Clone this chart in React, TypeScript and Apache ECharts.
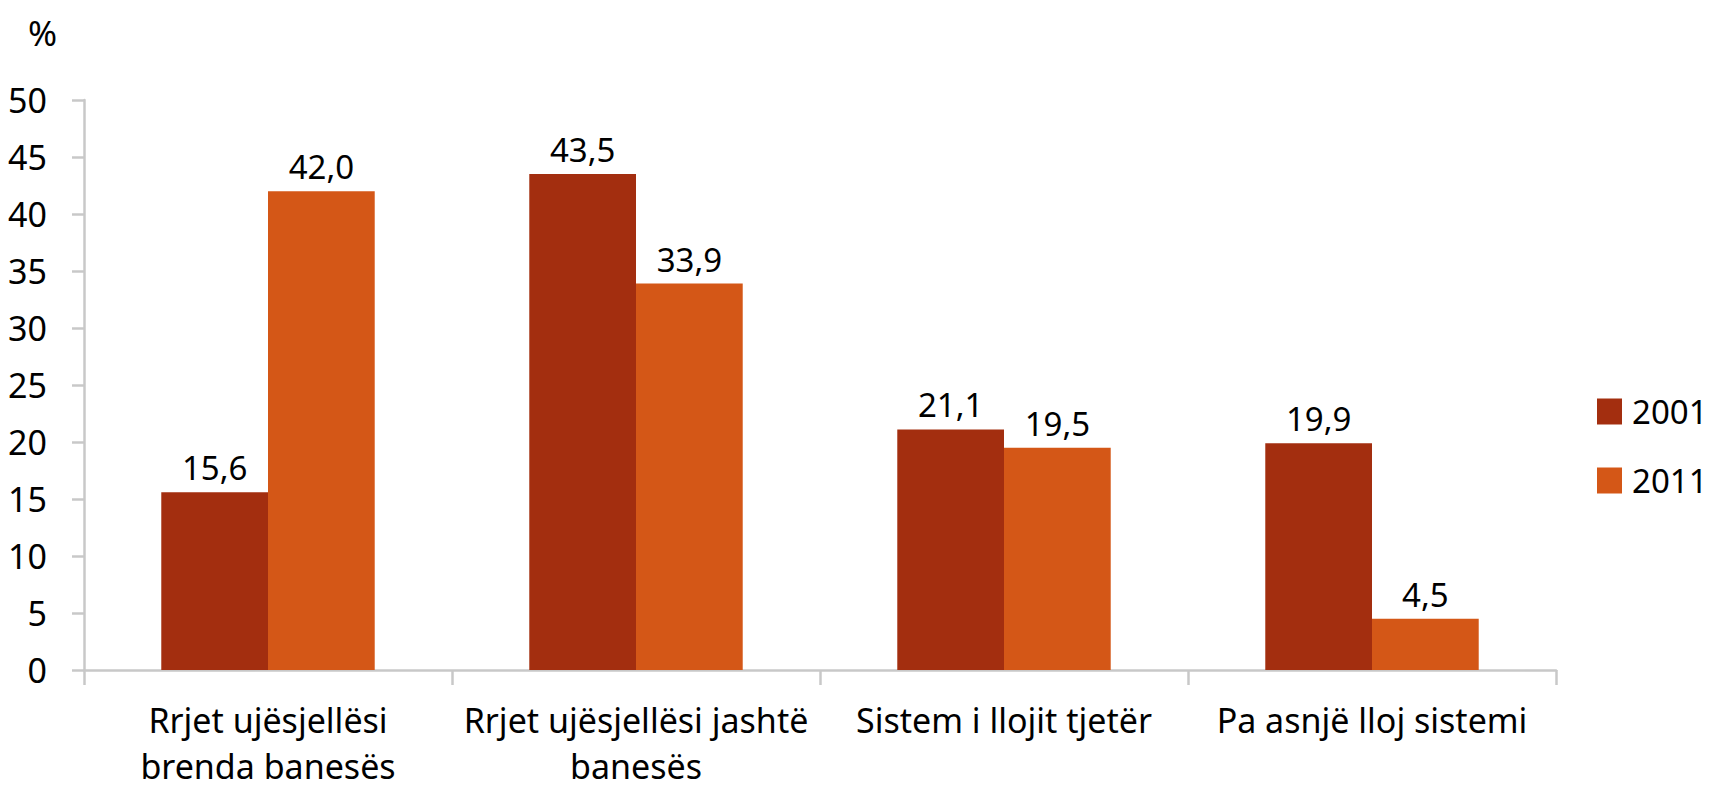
import React, { useEffect, useRef } from "react";
import * as echarts from "echarts";

const categories = [
  "Rrjet ujësjellësi\nbrenda banesës",
  "Rrjet ujësjellësi jashtë\nbanesës",
  "Sistem i llojit tjetër",
  "Pa asnjë lloj sistemi",
];
const seriesNames = ["2001", "2011"];
const values2001 = [15.6, 43.5, 21.1, 19.9];
const values2011 = [42.0, 33.9, 19.5, 4.5];
const colors = ["#A32E0F", "#D45717"];

const FONT = "'Noto Sans', sans-serif";

export default function App() {
  const ref = useRef<HTMLDivElement>(null);
  useEffect(() => {
    if (!ref.current) return;
    const chart = echarts.init(ref.current, undefined, { renderer: "svg" });
    const fmt = (p: any) => Number(p.value).toFixed(1).replace(".", ",");
    chart.setOption({
      animation: false,
      textStyle: { fontFamily: FONT, color: "#000" },
      title: {
        text: "%",
        left: 23,
        top: 10,
        textStyle: { fontFamily: FONT, fontSize: 35, fontWeight: "normal", color: "#000" },
      },
      legend: {
        orient: "vertical",
        left: 1597,
        top: 395,
        itemWidth: 25,
        itemHeight: 26,
        itemGap: 36,
        icon: "rect",
        padding: 0,
        textStyle: { fontFamily: FONT, fontSize: 33, lineHeight: 26, color: "#000", padding: [0, 0, 0, 5] },
        data: seriesNames,
      },
      grid: { left: 84, right: 156, top: 100, bottom: 116, containLabel: false },
      xAxis: {
        type: "category",
        data: categories,
        axisLine: { lineStyle: { color: "#C8C8C8", width: 2.5 } },
        axisTick: { show: true, length: 15, lineStyle: { color: "#C8C8C8", width: 2.5 } },
        axisLabel: {
          fontFamily: FONT,
          fontSize: 34,
          color: "#000",
          margin: 27,
          lineHeight: 46,
          interval: 0,
        },
      },
      yAxis: {
        type: "value",
        min: 0,
        max: 50,
        interval: 5,
        axisLine: { show: true, lineStyle: { color: "#C8C8C8", width: 2.5 } },
        axisTick: { show: true, length: 12, lineStyle: { color: "#C8C8C8", width: 2.5 } },
        splitLine: { show: false },
        axisLabel: { fontFamily: FONT, fontSize: 34, color: "#000", margin: 37 },
      },
      series: [
        {
          name: seriesNames[0],
          type: "bar",
          data: values2001,
          itemStyle: { color: colors[0] },
          barGap: "0%",
          barCategoryGap: "42%",
          label: { show: true, position: "top", distance: 8, formatter: fmt, fontFamily: FONT, fontSize: 33, color: "#000" },
        },
        {
          name: seriesNames[1],
          type: "bar",
          data: values2011,
          itemStyle: { color: colors[1] },
          barGap: "0%",
          barCategoryGap: "42%",
          label: { show: true, position: "top", distance: 8, formatter: fmt, fontFamily: FONT, fontSize: 33, color: "#000" },
        },
      ],
    });
    return () => chart.dispose();
  }, []);
  return (
    <div
      ref={ref}
      style={{ position: "absolute", left: 0, top: 0, width: 1712, height: 789 }}
    />
  );
}
